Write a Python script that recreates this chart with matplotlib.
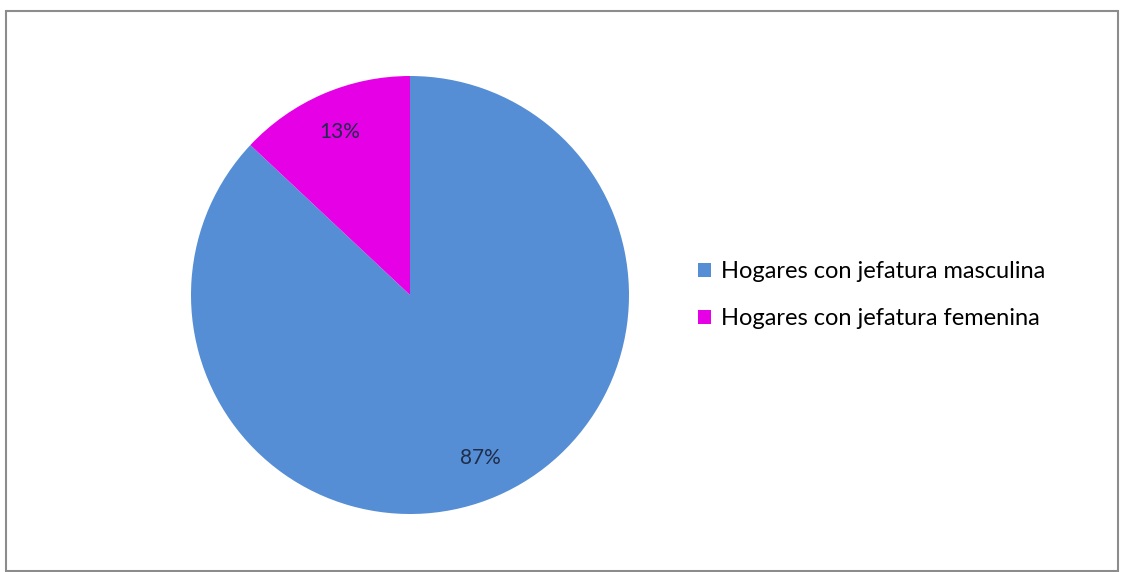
import matplotlib.pyplot as plt
from matplotlib.patches import Rectangle

labels = ['Hogares con jefatura masculina', 'Hogares con jefatura femenina']
values = [87, 13]
colors = ['#558ED5', '#E600E6']

plt.rcParams['font.family'] = ['Lato', 'DejaVu Sans']

W, H = 1127, 572
fig = plt.figure(figsize=(W / 100, H / 100), dpi=100)

# chart frame
fig.patches.append(Rectangle((6 / W, 1 / H), 1112 / W, 560 / H, transform=fig.transFigure,
                             fill=False, edgecolor='#8c8c8c', linewidth=1.5))

cx, cy, r = 410, 295, 219
ax = fig.add_axes([(cx - r) / W, (H - cy - r) / H, 2 * r / W, 2 * r / H])
wedges, texts, autotexts = ax.pie(values, colors=colors, startangle=90, counterclock=False,
                                  autopct='%d%%', pctdistance=0.81,
                                  wedgeprops={'linewidth': 0},
                                  textprops={'fontsize': 15, 'color': '#1f2d4a'})
ax.set_xlim(-1, 1)
ax.set_ylim(-1, 1)
ax.set_aspect('equal')

fig.legend(wedges, labels, loc='center left', bbox_to_anchor=(677 / W, (H - 295) / H),
           frameon=False, fontsize=17, handlelength=0.55, handleheight=0.55,
           handletextpad=0.4, labelspacing=1.1)

fig.savefig('out.png', dpi=100)
